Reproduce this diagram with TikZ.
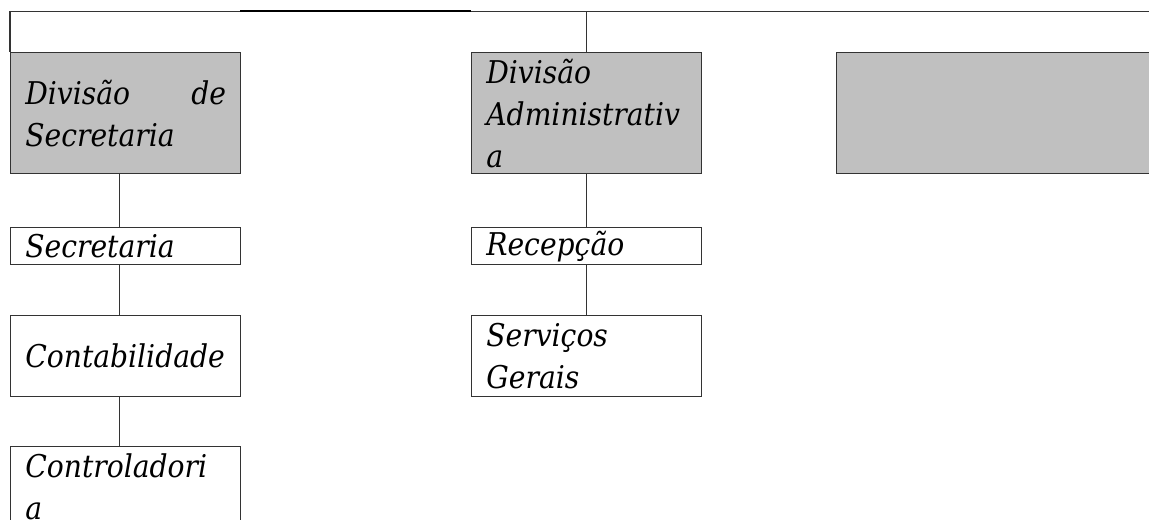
\documentclass[tikz,border=0pt]{standalone}
\usepackage{fontspec}
\setmainfont{DejaVu Serif Condensed}
\definecolor{linegray}{HTML}{333333}
\definecolor{boxgray}{HTML}{C0C0C0}
\begin{document}
\begin{tikzpicture}[x=0.75pt,y=-0.75pt,
  conn/.style={draw=linegray,line width=1pt},
  unit/.style={draw=linegray,line width=1pt,anchor=north west,inner ysep=0pt,
    inner xsep=11pt,text width=150.5pt,align=left,minimum width=172.5pt,
    font=\fontsize{23.5}{31.5}\selectfont\itshape},
  div/.style={unit,fill=boxgray,minimum height=90.75pt},
  small/.style={unit,minimum height=27.75pt},
  mid/.style={unit,minimum height=60.75pt}]
\useasboundingbox (0,0) rectangle (1149,520);
\coordinate (tl) at (10,11.5);
\coordinate (tr) at (1165,11.5);
\coordinate (ka) at (240,11.5);
\coordinate (kb) at (471,11.5);
% left column
\node[div] (ds) at (10,52) {Divisão\hfill de\\Secretaria};
\node[small] (sec) at (10,227) {Secretaria};
\node[mid] (cont) at (10,315) {Contabilidade};
\node[mid] (ctrl) at (10,446) {Controladori\\a};
% middle column
\node[div] (da) at (471,52) {Divisão\\Administrativ\\a};
\node[small] (rec) at (471,227) {Recepção};
\node[mid] (serv) at (471,315) {Serviços\\Gerais};
% right box
\node[unit,fill=boxgray,minimum height=90.75pt,minimum width=243pt,text width=219pt] (rb) at (836,52) {};
% connectors
\draw[conn,line join=miter] (ds.north west) -- (tl) -- (tr);
\draw[line width=1.5pt,black] (ka) -- (kb);
\draw[conn] (da.north) -- (da.north |- tl);
\draw[conn] ([xshift=-4.5pt]ds.south) -- ([xshift=-4.5pt]sec.north);
\draw[conn] ([xshift=-4.5pt]sec.south) -- ([xshift=-4.5pt]cont.north);
\draw[conn] ([xshift=-4.5pt]cont.south) -- ([xshift=-4.5pt]ctrl.north);
\draw[conn] (da.south) -- (rec.north);
\draw[conn] (rec.south) -- (serv.north);
\end{tikzpicture}
\end{document}
